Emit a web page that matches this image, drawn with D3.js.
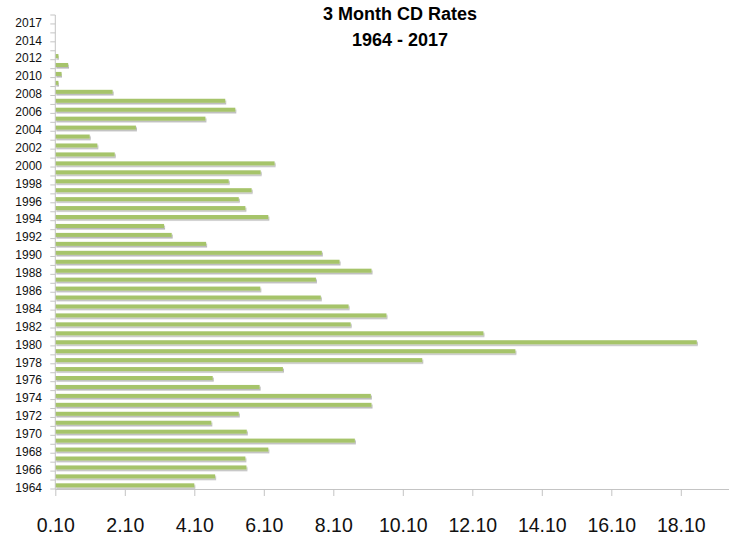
<!DOCTYPE html>
<html>
<head>
<meta charset="utf-8">
<script src="https://cdn.jsdelivr.net/npm/d3@7"></script>
<style>
  body { margin: 0; background: #fff; }
  svg { display: block; font-family: 'Liberation Sans', Arial, sans-serif; }
</style>
</head>
<body>
<svg id="chart" width="729" height="537"></svg>
<script>
// 3 month CD rates, one bar per year
const years = [
  '1964', '1965', '1966', '1967', '1968', '1969', '1970', '1971', '1972', '1973',
  '1974', '1975', '1976', '1977', '1978', '1979', '1980', '1981', '1982', '1983',
  '1984', '1985', '1986', '1987', '1988', '1989', '1990', '1991', '1992', '1993',
  '1994', '1995', '1996', '1997', '1998', '1999', '2000', '2001', '2002', '2003',
  '2004', '2005', '2006', '2007', '2008', '2009', '2010', '2011', '2012', '2013',
  '2014', '2016', '2017'
];

const rates = [
  4.10, 4.70, 5.60, 5.57, 6.23, 8.72, 5.61, 4.59, 5.38, 9.20,
  9.18, 5.98, 4.63, 6.65, 10.66, 13.34, 18.56, 12.42, 8.60, 9.63,
  8.54, 7.74, 6.00, 7.60, 9.20, 8.28, 7.77, 4.44, 3.45, 3.23,
  6.23, 5.57, 5.38, 5.75, 5.09, 6.01, 6.41, 1.81, 1.31, 1.09,
  2.42, 4.42, 5.28, 4.99, 1.75, 0.19, 0.28, 0.47, 0.19, 0.10,
  0.10, 0.10, 0.10
];

const xTicks = [0.1, 2.1, 4.1, 6.1, 8.1, 10.1, 12.1, 14.1, 16.1, 18.1];
const titleLines = ['3 Month CD Rates', '1964 - 2017'];

let data = years.map((y, i) => { return { year: y, rate: rates[i] }; });

let svg = d3.select('#chart');
let width = 729;

let plotLeft = 55.3;
let plotTop = 15;
let plotBottom = 489;

let x = d3.scaleLinear()
  .domain([0.1, 20.1])
  .range([plotLeft, plotLeft + 20 * 34.75]);

// newest year on top
let y = d3.scaleBand()
  .domain(years.slice().reverse())
  .range([plotTop, plotBottom])
  .paddingInner(0.55)
  .paddingOuter(0.275);

let defs = svg.append('defs');
let shadow = defs.append('filter')
  .attr('id', 'bar-shadow')
  .attr('x', '-5%').attr('y', '-50%')
  .attr('width', '110%').attr('height', '250%');
shadow.append('feDropShadow')
  .attr('dx', 1)
  .attr('dy', 1.6)
  .attr('stdDeviation', 0.7)
  .attr('flood-color', '#000')
  .attr('flood-opacity', 0.28);

//bars
svg.append('g').attr('class', 'bars')
  .selectAll('rect')
  .data(data)
  .enter().append('rect')
  .attr('x', x(0.1))
  .attr('y', (d) => { return y(d.year) + 0.8; })
  .attr('width', (d) => { return Math.max(0, x(d.rate) - x(0.1)); })
  .attr('height', y.bandwidth())
  .attr('fill', '#a6c46b')
  .style('filter', (d) => { return d.rate > 0.1 ? 'url(#bar-shadow)' : null; });

//x axis
let xAxis = d3.axisBottom(x)
  .tickValues(xTicks)
  .tickSize(7)
  .tickSizeOuter(0)
  .tickFormat(d3.format('.2f'));

let gx = svg.append('g')
  .attr('transform', `translate(0,${plotBottom})`)
  .call(xAxis);

gx.select('.domain')
  .attr('d', `M${plotLeft},0.5H${width}`)
  .attr('stroke', '#c4c4c4');
gx.selectAll('.tick line').attr('stroke', '#c4c4c4');
gx.selectAll('.tick text')
  .attr('y', 43)
  .attr('dy', 0)
  .attr('fill', '#111')
  .style('font-size', '19.5px');

//y axis: ticks on the band edges, labels every other year
let yLine = svg.append('g').attr('class', 'y-axis');
yLine.append('line')
  .attr('x1', plotLeft).attr('x2', plotLeft)
  .attr('y1', plotTop).attr('y2', plotBottom)
  .attr('stroke', '#c4c4c4');

let step = y.step();
let edges = years.map((yr) => { return y(yr) - y.paddingInner() * step / 2; });
edges.push(plotBottom);

yLine.selectAll('.edge')
  .data(edges)
  .enter().append('line')
  .attr('x1', plotLeft - 5).attr('x2', plotLeft)
  .attr('y1', (d) => { return d; })
  .attr('y2', (d) => { return d; })
  .attr('stroke', '#c4c4c4');

yLine.selectAll('.lab')
  .data(years.filter((yr, i) => { return i % 2 === 0; }))
  .enter().append('text')
  .attr('x', 42)
  .attr('y', (d) => { return y(d) + y.bandwidth() / 2 + 3; })
  .attr('dy', '0.35em')
  .style('text-anchor', 'end')
  .style('font-size', '12px')
  .attr('fill', '#111')
  .text((d) => { return d; });

//title
svg.append('g').selectAll('text')
  .data(titleLines)
  .enter().append('text')
  .attr('x', 400)
  .attr('y', (d, i) => { return 20 + i * 25.5; })
  .style('text-anchor', 'middle')
  .style('font-size', '18px')
  .style('font-weight', 'bold')
  .attr('fill', '#000')
  .text((d) => { return d; });
</script>
</body>
</html>
